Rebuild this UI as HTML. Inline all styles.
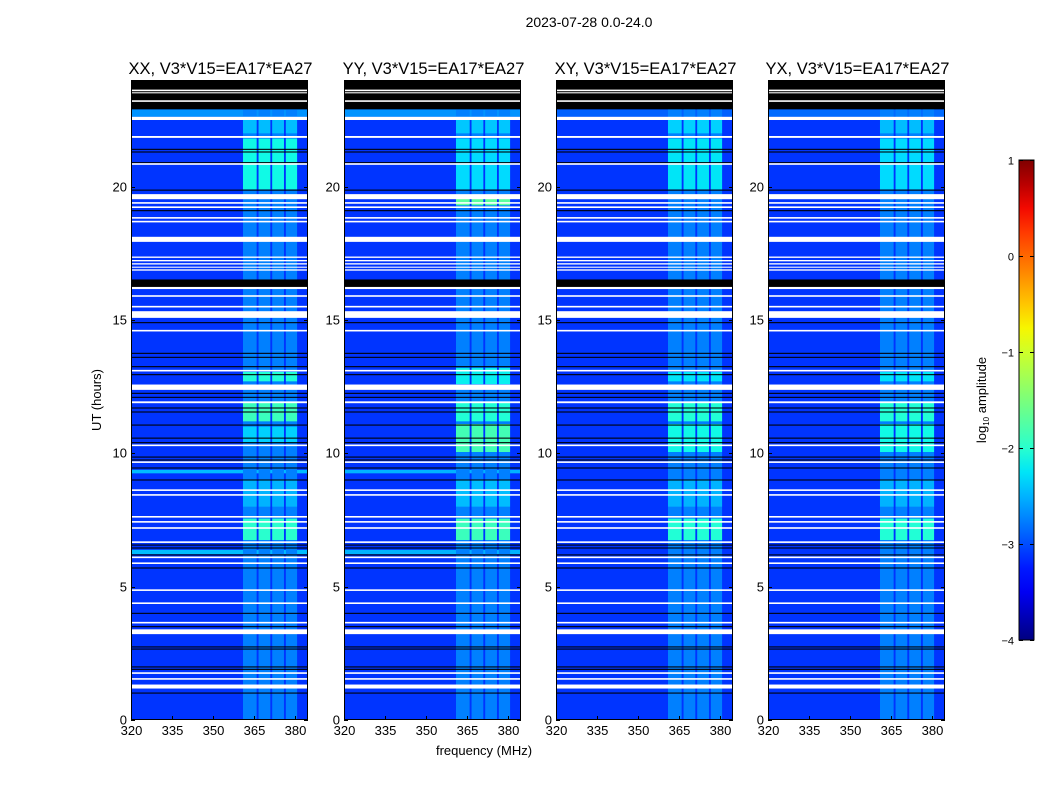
<!DOCTYPE html>
<html><head><meta charset="utf-8">
<style>
body{margin:0;background:#fff;width:1050px;height:800px;overflow:hidden;font-family:"Liberation Sans",sans-serif;}
#root{position:relative;width:1050px;height:800px;}
</style></head>
<body>
<div id="root">
<svg id="svg" width="1050" height="800" style="position:absolute;left:0;top:0"></svg>
</div>
<script>
// ---- data ----
const panelTitles = ["XX, V3*V15=EA17*EA27","YY, V3*V15=EA17*EA27","XY, V3*V15=EA17*EA27","YX, V3*V15=EA17*EA27"];
const xTicks = [320,335,350,365,380];
const yTicks = [0,5,10,15,20];
const cbTicks = [1,0,-1,-2,-3,-4];
const subBands = [[361,366],[366.7,371],[371.7,376],[376.7,380.8]];
const bgValue = -3.12;
const bandBase = -2.75;
// flagged rows [startHr, endHr, type] w=white(no data) k=black
const flagRows = [
 [22.9,24.0,'k'],[23.58,23.64,'w'],[23.5,23.54,'w'],[23.18,23.24,'w'],
 [22.5,22.62,'w'],[21.83,21.9,'w'],[21.38,21.42,'k'],[21.28,21.32,'k'],[20.88,20.92,'k'],[20.82,20.88,'w'],
 [19.85,19.89,'k'],[19.53,19.72,'w'],[19.36,19.42,'w'],[19.2,19.26,'w'],[19.08,19.12,'k'],[18.8,18.86,'w'],[18.66,18.72,'w'],
 [17.93,18.12,'w'],[17.33,17.38,'w'],[17.2,17.25,'w'],[17.08,17.13,'w'],[16.96,17.0,'w'],[16.85,16.9,'w'],
 [16.22,16.52,'k'],[16.16,16.24,'w'],[15.87,15.93,'w'],[15.47,15.53,'w'],[15.08,15.33,'w'],
 [14.88,14.92,'k'],[14.57,14.63,'w'],[13.73,13.77,'k'],[13.58,13.62,'k'],[13.23,13.27,'k'],[13.07,13.13,'w'],[12.93,12.97,'k'],
 [12.38,12.58,'w'],[12.23,12.27,'k'],[12.08,12.12,'k'],[11.88,11.95,'w'],[11.68,11.72,'k'],[11.53,11.57,'k'],
 [11.04,11.08,'k'],[10.55,10.59,'k'],[10.38,10.42,'k'],[10.27,10.33,'w'],[9.84,9.88,'k'],[9.73,9.77,'k'],[9.64,9.7,'w'],
 [9.43,9.47,'k'],[8.98,9.02,'k'],[8.59,8.65,'w'],[8.41,8.47,'w'],[7.59,7.65,'w'],[7.4,7.46,'w'],[7.17,7.23,'w'],
 [6.64,6.7,'w'],[6.54,6.58,'k'],[6.43,6.47,'k'],[6.17,6.21,'k'],[6.07,6.13,'w'],[5.85,5.91,'w'],[5.68,5.72,'k'],
 [4.84,4.9,'w'],[4.35,4.41,'w'],[3.98,4.02,'k'],[3.62,3.68,'w'],[3.48,3.52,'k'],[3.22,3.4,'w'],
 [2.72,2.76,'k'],[2.64,2.68,'k'],[1.97,2.01,'k'],[1.88,1.92,'k'],[1.73,1.79,'w'],[1.51,1.57,'w'],[1.18,1.33,'w'],[0.99,1.03,'k']
];
// elevated full-width background strips per panel [start,end,value]
const bgStrips = [
 [[22.62,22.9,-2.65],[9.25,9.38,-2.45],[6.22,6.38,-2.45]],
 [[22.62,22.9,-2.65],[9.25,9.38,-2.5],[6.22,6.38,-2.5]],
 [[22.62,22.9,-2.9]],
 [[22.62,22.9,-2.85]]
];
// band-intensity episodes per panel [start,end,value]
const bandXX = [[19.9,21.8,-2.15],[12.7,13.05,-2.05],[11.2,11.9,-1.9],[10.4,11.0,-2.35],[8.0,9.0,-2.5],[6.75,7.55,-2.0],[22.0,22.5,-2.45]];
const bandYY = [[19.9,21.8,-2.3],[19.3,19.55,-1.7],[12.6,13.2,-2.2],[11.2,11.9,-2.05],[10.05,11.1,-1.85],[8.0,9.0,-2.45],[6.75,7.55,-1.9],[22.0,22.5,-2.4]];
const bandXY = [[19.9,21.8,-2.25],[12.7,13.05,-2.25],[11.2,11.9,-2.05],[10.05,11.1,-2.15],[8.0,9.0,-2.5],[6.75,7.55,-2.05],[22.0,22.5,-2.35]];
const bandYX = [[19.9,21.8,-2.3],[12.7,13.05,-2.25],[11.2,11.9,-2.05],[10.05,11.1,-2.15],[8.0,9.0,-2.5],[6.75,7.55,-2.05],[22.0,22.5,-2.45]];
const bandEpisodes = [bandXX,bandYY,bandXY,bandYX];

// ---- layout ----
const panelX = [131,344,556,768];
const pw = 177, pTop = 80, pBot = 720;
const fMin = 320, fMax = 384.8, tMin = 0, tMax = 24;
const vMin = -4, vMax = 1;
const svg = document.getElementById('svg');
const NS = 'http://www.w3.org/2000/svg';
function xScale(i,f){return panelX[i] + (f-fMin)/(fMax-fMin)*pw;}
function yScale(t){return pBot - (t-tMin)/(tMax-tMin)*(pBot-pTop);}
function lerpSeg(seg,t){for(let k=1;k<seg.length;k++){if(t<=seg[k][0]){const a=seg[k-1],b=seg[k];return a[1]+(b[1]-a[1])*(t-a[0])/(b[0]-a[0]);}}return seg[seg.length-1][1];}
const RS=[[0,0],[0.35,0],[0.66,1],[0.89,1],[1,0.5]],GS=[[0,0],[0.125,0],[0.375,1],[0.64,1],[0.91,0],[1,0]],BS=[[0,0.5],[0.11,1],[0.34,1],[0.65,0],[1,0]];
function jet(v){let t=(v-vMin)/(vMax-vMin);t=Math.max(0,Math.min(1,t));return `rgb(${Math.round(lerpSeg(RS,t)*255)},${Math.round(lerpSeg(GS,t)*255)},${Math.round(lerpSeg(BS,t)*255)})`;}
function el(tag,attrs,parent){const e=document.createElementNS(NS,tag);for(const k in attrs)e.setAttribute(k,attrs[k]);(parent||svg).appendChild(e);return e;}
function txt(x,y,s,size,anchor,parent){const t=el('text',{x:x,y:y,'font-size':size,'text-anchor':anchor||'middle','font-family':'Liberation Sans, sans-serif',fill:'#000'},parent);t.textContent=s;return t;}

const sup = txt(589,27,"2023-07-28 0.0-24.0",14);



for(let i=0;i<4;i++){
  const g=el('g',{});
  
  
  const x0=panelX[i];
  el('rect',{x:x0,y:pTop,width:pw,height:pBot-pTop,fill:jet(bgValue)},g);
  for(const s of bgStrips[i]){
    const r=el('rect',{x:x0,y:yScale(s[1]),width:pw,height:yScale(s[0])-yScale(s[1]),fill:jet(s[2])},g);
    
    
  }
  for(const sb of subBands){
    const r=el('rect',{x:xScale(i,sb[0]),y:pTop,width:xScale(i,sb[1])-xScale(i,sb[0]),height:pBot-pTop,fill:jet(bandBase)},g);
    
    
    for(const ep of bandEpisodes[i]){
      const c=el('rect',{x:xScale(i,sb[0]),y:yScale(ep[1]),width:xScale(i,sb[1])-xScale(i,sb[0]),height:yScale(ep[0])-yScale(ep[1]),fill:jet(ep[2])},g);
      
      
    }
  }
  for(const fr of flagRows){
    const y1=yScale(fr[1]),h=Math.max(1,yScale(fr[0])-y1);
    const r=el('rect',{x:x0,y:y1,width:pw,height:h,fill:fr[2]==='w'?'#fff':'#000'},g);
    
    
  }
  el('rect',{x:x0+0.5,y:pTop+0.5,width:pw-1,height:pBot-pTop-1,fill:'none',stroke:'#000','stroke-width':1},g);
  for(const f of xTicks){
    const x=Math.round(xScale(i,f))+0.5;
    el('line',{x1:x,x2:x,y1:pBot,y2:pBot-4,stroke:'#000'},g);
    el('line',{x1:x,x2:x,y1:pTop,y2:pTop+4,stroke:'#000'},g);
    const l=txt(x,pBot+15,String(f),13,'middle',g);
    
    
  }
  for(const t of yTicks){
    const y=Math.round(yScale(t))+0.5;
    el('line',{x1:x0,x2:x0+4,y1:y,y2:y,stroke:'#000'},g);
    el('line',{x1:x0+pw,x2:x0+pw-4,y1:y,y2:y,stroke:'#000'},g);
    const l=txt(x0-4,y+4,String(t),13,'end',g);
    
    
  }
  const ti=txt(x0+pw/2+1,74,panelTitles[i],16.5,'middle',g);
  
  
}
const xl=txt(484,755,"frequency (MHz)",13);


const yl=txt(0,0,"UT (hours)",13);
yl.setAttribute('transform','translate(101,400) rotate(-90)');



// colorbar
const cb=el('g',{});


const cbX=1019,cbW=15,cbTop=160,cbBot=640;
const defs=el('defs',{});
const grad=el('linearGradient',{id:'jetg',x1:0,y1:1,x2:0,y2:0},defs);
for(let k=0;k<=20;k++){const v=vMin+(vMax-vMin)*k/20;el('stop',{offset:(k/20),'stop-color':jet(v)},grad);}
el('rect',{x:cbX,y:cbTop,width:cbW,height:cbBot-cbTop,fill:'url(#jetg)',stroke:'#000','stroke-width':1},cb);
function cbY(v){return cbBot-(v-vMin)/(vMax-vMin)*(cbBot-cbTop);}
for(const v of cbTicks){
  const y=Math.round(cbY(v))+0.5;
  el('line',{x1:cbX,x2:cbX+4,y1:y,y2:y,stroke:'#000'},cb);
  el('line',{x1:cbX+cbW,x2:cbX+cbW-4,y1:y,y2:y,stroke:'#000'},cb);
  const l=txt(cbX-5,y+4,v<0?'\u2212'+Math.abs(v):String(v),11,'end',cb);
  
  
}
const cl=el('text',{transform:'translate(986,400) rotate(-90)','font-size':13,'text-anchor':'middle','font-family':'Liberation Sans, sans-serif'},cb);
cl.innerHTML='log<tspan font-size="8" dy="3">10</tspan><tspan dy="-3"> amplitude</tspan>';


</script>
</body></html>
